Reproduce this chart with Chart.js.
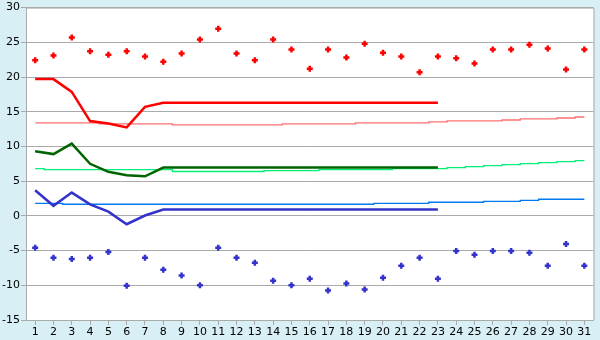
<!DOCTYPE html>
<html>
<head>
<meta charset="utf-8">
<script src="https://cdn.jsdelivr.net/npm/chart.js@4"></script>
<style>
  html, body { margin: 0; padding: 0; background: #d9eff6; }
  canvas { display: block; }
</style>
</head>
<body>
<canvas id="wykres" width="600" height="340"></canvas>
<script>
// dni miesiąca
const dni = ['1','2','3','4','5','6','7','8','9','10','11','12','13','14','15','16',
  '17','18','19','20','21','22','23','24','25','26','27','28','29','30','31'];

// rekordy (punkty)
const rekordMax = [22.4, 23.1, 25.7, 23.7, 23.2, 23.7, 22.95, 22.2, 23.4, 25.4, 26.95, 23.4, 22.4, 25.4, 23.95, 21.2,
  23.95, 22.8, 24.8, 23.5, 22.95, 20.7, 22.95, 22.7, 21.95, 23.95, 23.95, 24.65, 24.1, 21.1, 23.95];
const rekordMin = [-4.6, -6.05, -6.2, -6.05, -5.2, -10.05, -6.05, -7.76, -8.6, -10.0, -4.6, -6.05, -6.76, -9.33, -10.0, -9.05,
  -10.76, -9.76, -10.6, -8.9, -7.19, -6.05, -9.05, -5.05, -5.6, -5.05, -5.05, -5.33, -7.19, -4.05, -7.19];

// pomiary bieżące (grube linie)
const tempMax = [19.7, 19.7, 17.85, 13.65, 13.3, 12.75, 15.7, 16.3, 16.3, 16.3, 16.3, 16.3, 16.3, 16.3, 16.3, 16.3,
  16.3, 16.3, 16.3, 16.3, 16.3, 16.3, 16.3, null, null, null, null, null, null, null, null];
const tempSr = [9.3, 8.9, 10.4, 7.5, 6.35, 5.85, 5.7, 6.95, 6.95, 6.95, 6.95, 6.95, 6.95, 6.95, 6.95, 6.95,
  6.95, 6.95, 6.95, 6.95, 6.95, 6.95, 6.95, null, null, null, null, null, null, null, null];
const tempMin = [3.7, 1.45, 3.35, 1.65, 0.6, -1.2, 0.05, 0.9, 0.9, 0.9, 0.9, 0.9, 0.9, 0.9, 0.9, 0.9,
  0.9, 0.9, 0.9, 0.9, 0.9, 0.9, 0.9, null, null, null, null, null, null, null, null];

// normy wieloletnie (cienkie linie)
const normaMax = [13.39, 13.39, 13.39, 13.39, 13.24, 13.24, 13.24, 13.24, 13.1, 13.1, 13.1, 13.1, 13.1, 13.1, 13.24, 13.24,
  13.24, 13.24, 13.39, 13.39, 13.39, 13.39, 13.53, 13.67, 13.67, 13.67, 13.81, 13.96, 13.96, 14.1, 14.24];
const normaSr = [6.81, 6.67, 6.67, 6.67, 6.67, 6.67, 6.67, 6.67, 6.39, 6.39, 6.39, 6.39, 6.39, 6.53, 6.53, 6.53,
  6.67, 6.67, 6.67, 6.67, 6.81, 6.81, 6.81, 6.96, 7.1, 7.24, 7.39, 7.53, 7.67, 7.81, 7.96];
const normaMin = [1.81, 1.81, 1.67, 1.67, 1.67, 1.67, 1.67, 1.67, 1.67, 1.67, 1.67, 1.67, 1.67, 1.67, 1.67, 1.67,
  1.67, 1.67, 1.67, 1.81, 1.81, 1.81, 1.96, 1.96, 1.96, 2.1, 2.1, 2.24, 2.39, 2.39, 2.39];

const osY = [-15, -10, -5, 0, 5, 10, 15, 20, 25, 30];

// tło wykresu i ramka
const tlo = {
  id: 'tlo',
  beforeDraw(chart) {
    const ctx = chart.ctx;
    const a = chart.chartArea;
    ctx.save();
    ctx.fillStyle = '#d9eff6';
    ctx.fillRect(0, 0, chart.width, chart.height);
    ctx.fillStyle = '#ffffff';
    ctx.fillRect(a.left, a.top, a.right - a.left, a.bottom - a.top);
    ctx.restore();
  },
  afterDraw(chart) {
    const ctx = chart.ctx;
    const a = chart.chartArea;
    ctx.save();
    ctx.strokeStyle = '#aaaaaa';
    ctx.lineWidth = 1;
    ctx.beginPath();
    ctx.moveTo(a.left, a.top + 0.5);
    ctx.lineTo(a.right + 0.5, a.top + 0.5);
    ctx.lineTo(a.right + 0.5, a.bottom);
    ctx.stroke();
    ctx.restore();
  }
};

const punkty = (dane, kolor) => ({
  data: dane,
  showLine: false,
  pointStyle: 'cross',
  pointRadius: 3,
  pointBorderWidth: 2.5,
  pointBorderColor: kolor,
  pointBackgroundColor: kolor,
  borderColor: kolor
});

const gruba = (dane, kolor) => ({
  data: dane,
  borderColor: kolor,
  borderWidth: 2.5,
  pointRadius: 0,
  tension: 0,
  spanGaps: false
});

const cienka = (dane, kolor) => ({
  data: dane,
  borderColor: kolor,
  borderWidth: 1.3,
  pointRadius: 0,
  stepped: 'middle'
});

new Chart(document.getElementById('wykres'), {
  type: 'line',
  data: {
    labels: dni,
    datasets: [
      punkty(rekordMax, '#ff0000'),
      punkty(rekordMin, '#3333cc'),
      gruba(tempMax, '#ff0000'),
      gruba(tempSr, '#006400'),
      gruba(tempMin, '#3333cc'),
      cienka(normaMax, '#ff7070'),
      cienka(normaSr, '#00f078'),
      cienka(normaMin, '#0078f0')
    ]
  },
  options: {
    responsive: false,
    animation: false,
    events: [],
    layout: { padding: { top: 5, right: 5, left: 0, bottom: 0 } },
    plugins: { legend: { display: false }, tooltip: { enabled: false } },
    scales: {
      x: {
        offset: true,
        afterFit(s) { s.height = 20; },
        grid: { drawOnChartArea: false, drawTicks: true, tickLength: 5, color: '#aaaaaa' },
        border: { color: '#aaaaaa' },
        ticks: { autoSkip: false, maxRotation: 0, padding: 1, color: '#000000',
          font: { family: 'DejaVu Sans', size: 11 } }
      },
      y: {
        min: -15,
        max: 30,
        afterFit(s) { s.width = 26; },
        afterBuildTicks(s) { s.ticks = osY.map(v => ({ value: v })); },
        grid: { color: '#aaaaaa', tickLength: 5, tickColor: '#aaaaaa' },
        border: { color: '#aaaaaa' },
        ticks: { padding: 1, color: '#000000', font: { family: 'DejaVu Sans', size: 11 } }
      }
    }
  },
  plugins: [tlo]
});
</script>
</body>
</html>
